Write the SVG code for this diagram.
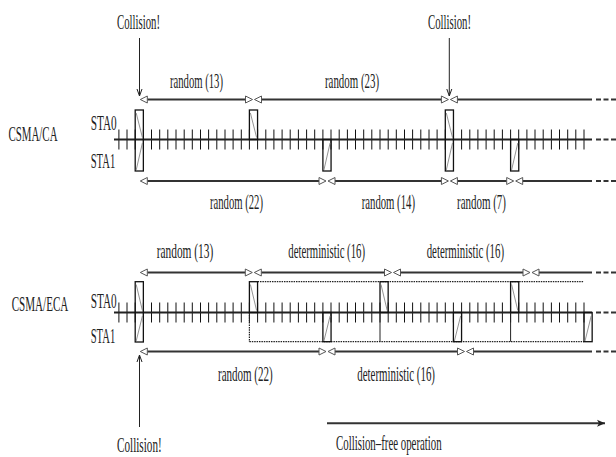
<svg xmlns="http://www.w3.org/2000/svg" xmlns:xlink="http://www.w3.org/1999/xlink" width="616" height="457" viewBox="0 0 616 457">
<style>
.t{font-family:"Liberation Serif","Times New Roman",serif;font-size:22px;fill:#222}
.arr{stroke:#333;stroke-width:2;fill:none}
.dash{stroke:#333;stroke-width:2;fill:none;stroke-dasharray:5 2.5}
.tl{stroke:#222;stroke-width:2;fill:none}
.tk{stroke:#111;stroke-width:1;fill:none}
.box{stroke:#111;stroke-width:1.3;fill:none}
.diag{stroke:#777;stroke-width:0.8;fill:none}
.dot{stroke:#222;stroke-width:1.2;fill:none;stroke-dasharray:1.5 0.9}
.thin{stroke:#222;stroke-width:1;fill:none}
.col{stroke:#222;stroke-width:1;fill:none}
</style>
<defs>
<marker id="open" viewBox="-1 -5 9 10" refX="0" refY="0" markerWidth="9" markerHeight="10" markerUnits="userSpaceOnUse" orient="auto-start-reverse">
<path d="M0,-3.5 L7,0 L0,3.5 Z" fill="#fff" stroke="#555" stroke-width="1"/>
</marker>
<marker id="vee" viewBox="-9 -5 10 10" refX="0" refY="0" markerWidth="10" markerHeight="10" markerUnits="userSpaceOnUse" orient="auto">
<path d="M-7,-2.5 L0,0 L-7,2.5" fill="none" stroke="#222" stroke-width="1"/>
</marker>
<marker id="solid" viewBox="-10 -5 11 10" refX="0" refY="0" markerWidth="11" markerHeight="10" markerUnits="userSpaceOnUse" orient="auto">
<path d="M-8,-3.5 L0,0 L-8,3.5 L-6,0 Z" fill="#222"/>
</marker>
<path id="ticks" class="tk" d="M118.9,-10v20M127,-10v20M135.2,-10v20M143.4,-10v20M151.5,-10v20M159.7,-10v20M167.8,-10v20M176,-10v20M184.2,-10v20M192.3,-10v20M200.5,-10v20M208.6,-10v20M216.8,-10v20M225,-10v20M233.1,-10v20M241.3,-10v20M249.4,-10v20M257.6,-10v20M265.8,-10v20M273.9,-10v20M282.1,-10v20M290.2,-10v20M298.4,-10v20M306.6,-10v20M314.7,-10v20M322.9,-10v20M331,-10v20M339.2,-10v20M347.4,-10v20M355.5,-10v20M363.7,-10v20M371.8,-10v20M380,-10v20M388.2,-10v20M396.3,-10v20M404.5,-10v20M412.6,-10v20M420.8,-10v20M429,-10v20M437.1,-10v20M445.3,-10v20M453.4,-10v20M461.6,-10v20M469.8,-10v20M477.9,-10v20M486.1,-10v20M494.2,-10v20M502.4,-10v20M510.6,-10v20M518.7,-10v20M526.9,-10v20M535,-10v20M543.2,-10v20M551.4,-10v20M559.5,-10v20M567.7,-10v20M575.8,-10v20M584,-10v20"/>
</defs>
<rect width="616" height="457" fill="#fff"/>

<!-- CSMA/CA -->
<g id="csma-ca">
<g id="ca-labels">
<text class="t" transform="scale(0.6,1)" x="14.17" y="141.5" textLength="81.67" lengthAdjust="spacingAndGlyphs">CSMA/CA</text>
<text class="t" transform="scale(0.6,1)" x="151.17" y="130.5" textLength="43.33" lengthAdjust="spacingAndGlyphs">STA0</text>
<text class="t" transform="scale(0.6,1)" x="151.17" y="168" textLength="40.83" lengthAdjust="spacingAndGlyphs">STA1</text>
<text class="t" transform="scale(0.6,1)" x="195" y="29.5" textLength="71.67" lengthAdjust="spacingAndGlyphs">Collision!</text>
<text class="t" transform="scale(0.6,1)" x="713.33" y="29.5" textLength="71.67" lengthAdjust="spacingAndGlyphs">Collision!</text>
<text class="t" transform="scale(0.6,1)" x="283.33" y="88.5" textLength="88.33" lengthAdjust="spacingAndGlyphs">random (13)</text>
<text class="t" transform="scale(0.6,1)" x="541.67" y="88.5" textLength="90" lengthAdjust="spacingAndGlyphs">random (23)</text>
<text class="t" transform="scale(0.6,1)" x="350" y="209.5" textLength="88.33" lengthAdjust="spacingAndGlyphs">random (22)</text>
<text class="t" transform="scale(0.6,1)" x="602.83" y="209.5" textLength="88.83" lengthAdjust="spacingAndGlyphs">random (14)</text>
<text class="t" transform="scale(0.6,1)" x="761.67" y="209.5" textLength="81.67" lengthAdjust="spacingAndGlyphs">random (7)</text>
</g>
<g id="ca-timeline">
<use xlink:href="#ticks" href="#ticks" y="139.5"/>
<path class="tl" d="M114,139.5H592"/>
<path class="dash" d="M596,139.5H616"/>
</g>
<g id="ca-tx">
<rect class="box" x="135.2" y="110" width="8.16" height="61"/>
<path class="diag" d="M136.2,113L142.4,137.5M136.2,170L142.4,143"/>
<rect class="box" x="249.4" y="110" width="8.16" height="29.5"/>
<path class="diag" d="M250.4,113L256.6,137.5"/>
<rect class="box" x="322.9" y="139.5" width="8.16" height="31.5"/>
<path class="diag" d="M323.9,170L330.1,143"/>
<rect class="box" x="445.3" y="110" width="8.16" height="61"/>
<path class="diag" d="M446.3,113L452.5,137.5M446.3,170L452.5,143"/>
<rect class="box" x="510.6" y="139.5" width="8.16" height="31.5"/>
<path class="diag" d="M511.6,170L517.8,143"/>
</g>
</g>

<!-- CSMA/ECA -->
<g id="csma-eca">
<g id="eca-labels">
<text class="t" transform="scale(0.6,1)" x="19.5" y="311.5" textLength="94.33" lengthAdjust="spacingAndGlyphs">CSMA/ECA</text>
<text class="t" transform="scale(0.6,1)" x="151.17" y="308" textLength="43.33" lengthAdjust="spacingAndGlyphs">STA0</text>
<text class="t" transform="scale(0.6,1)" x="151.17" y="343" textLength="40.83" lengthAdjust="spacingAndGlyphs">STA1</text>
<text class="t" transform="scale(0.6,1)" x="261.17" y="258.5" textLength="94.33" lengthAdjust="spacingAndGlyphs">random (13)</text>
<text class="t" transform="scale(0.6,1)" x="480.5" y="258.5" textLength="127.83" lengthAdjust="spacingAndGlyphs">deterministic (16)</text>
<text class="t" transform="scale(0.6,1)" x="711.17" y="258.5" textLength="128.83" lengthAdjust="spacingAndGlyphs">deterministic (16)</text>
<text class="t" transform="scale(0.6,1)" x="363.33" y="381.5" textLength="91.17" lengthAdjust="spacingAndGlyphs">random (22)</text>
<text class="t" transform="scale(0.6,1)" x="595.5" y="381.5" textLength="129.5" lengthAdjust="spacingAndGlyphs">deterministic (16)</text>
<text class="t" transform="scale(0.6,1)" x="195" y="452.5" textLength="74.5" lengthAdjust="spacingAndGlyphs">Collision!</text>
<text class="t" transform="scale(0.6,1)" x="560" y="450.5" textLength="176.17" lengthAdjust="spacingAndGlyphs">Collision–free operation</text>
</g>
<g id="eca-timeline">
<use xlink:href="#ticks" href="#ticks" y="312.5"/>
<path class="tl" d="M114,312.5H592"/>
<path class="dash" d="M596,312.5H616"/>
</g>
<g id="eca-cycles">
<path class="dot" d="M257.6,281.7H584M249.4,341.7H584"/>
<path class="dot" d="M249.4,312.5V341.7"/>
<path class="thin" d="M380,312.5V341.7M510.6,312.5V341.7"/>
</g>
<g id="eca-tx">
<rect class="box" x="135.2" y="281.7" width="8.16" height="60.3"/>
<path class="diag" d="M136.2,284.5L142.4,310.5M136.2,341L142.4,316"/>
<rect class="box" x="249.4" y="281.7" width="8.16" height="30.8"/>
<path class="diag" d="M250.4,284.5L256.6,310.5"/>
<rect class="box" x="322.9" y="312.5" width="8.16" height="29.2"/>
<path class="diag" d="M323.9,341L330.1,316"/>
<rect class="box" x="380" y="281.7" width="8.16" height="30.8"/>
<path class="diag" d="M381,284.5L387.2,310.5"/>
<rect class="box" x="453.4" y="312.5" width="8.16" height="29.2"/>
<path class="diag" d="M454.4,341L460.6,316"/>
<rect class="box" x="510.6" y="281.7" width="8.16" height="30.8"/>
<path class="diag" d="M511.6,284.5L517.8,310.5"/>
<rect class="box" x="584" y="312.5" width="8.16" height="29.2"/>
<path class="diag" d="M585,341L591.2,316"/>
</g>
</g>

<g id="connectors">
<!-- CA top backoff arrows -->
<line class="arr" x1="147.3" y1="99.5" x2="245.5" y2="99.5" marker-start="url(#open)" marker-end="url(#open)"/>
<line class="arr" x1="261.5" y1="99.5" x2="441.4" y2="99.5" marker-start="url(#open)" marker-end="url(#open)"/>
<line class="arr" x1="457.4" y1="99.5" x2="592" y2="99.5" marker-start="url(#open)"/>
<path class="dash" d="M596,99.5H616"/>
<!-- CA bottom backoff arrows -->
<line class="arr" x1="147.3" y1="181" x2="319" y2="181" marker-start="url(#open)" marker-end="url(#open)"/>
<line class="arr" x1="335" y1="181" x2="441.4" y2="181" marker-start="url(#open)" marker-end="url(#open)"/>
<line class="arr" x1="457.4" y1="181" x2="506.7" y2="181" marker-start="url(#open)" marker-end="url(#open)"/>
<line class="arr" x1="522.7" y1="181" x2="592" y2="181" marker-start="url(#open)"/>
<path class="dash" d="M596,181H616"/>
<!-- ECA top -->
<line class="arr" x1="147.3" y1="272.5" x2="245.3" y2="272.5" marker-start="url(#open)" marker-end="url(#open)"/>
<line class="arr" x1="261.3" y1="272.5" x2="384.5" y2="272.5" marker-start="url(#open)" marker-end="url(#open)"/>
<line class="arr" x1="400.5" y1="272.5" x2="523" y2="272.5" marker-start="url(#open)" marker-end="url(#open)"/>
<line class="arr" x1="539" y1="272.5" x2="592" y2="272.5" marker-start="url(#open)"/>
<path class="dash" d="M596,272.5H616"/>
<!-- ECA bottom -->
<line class="arr" x1="147.3" y1="351.5" x2="319" y2="351.5" marker-start="url(#open)" marker-end="url(#open)"/>
<line class="arr" x1="335" y1="351.5" x2="457.5" y2="351.5" marker-start="url(#open)" marker-end="url(#open)"/>
<line class="arr" x1="473.5" y1="351.5" x2="592" y2="351.5" marker-start="url(#open)"/>
<path class="dash" d="M596,351.5H616"/>
<!-- collision pointers -->
<line class="col" x1="139.5" y1="38" x2="139.5" y2="96" marker-end="url(#vee)"/>
<line class="col" x1="449.3" y1="38" x2="449.3" y2="96" marker-end="url(#vee)"/>
<line class="col" x1="139.5" y1="427" x2="139.5" y2="355" marker-end="url(#vee)"/>
<!-- collision-free operation -->
<line class="arr" x1="327" y1="423.3" x2="605" y2="423.3" marker-end="url(#solid)"/>
</g>
</svg>
